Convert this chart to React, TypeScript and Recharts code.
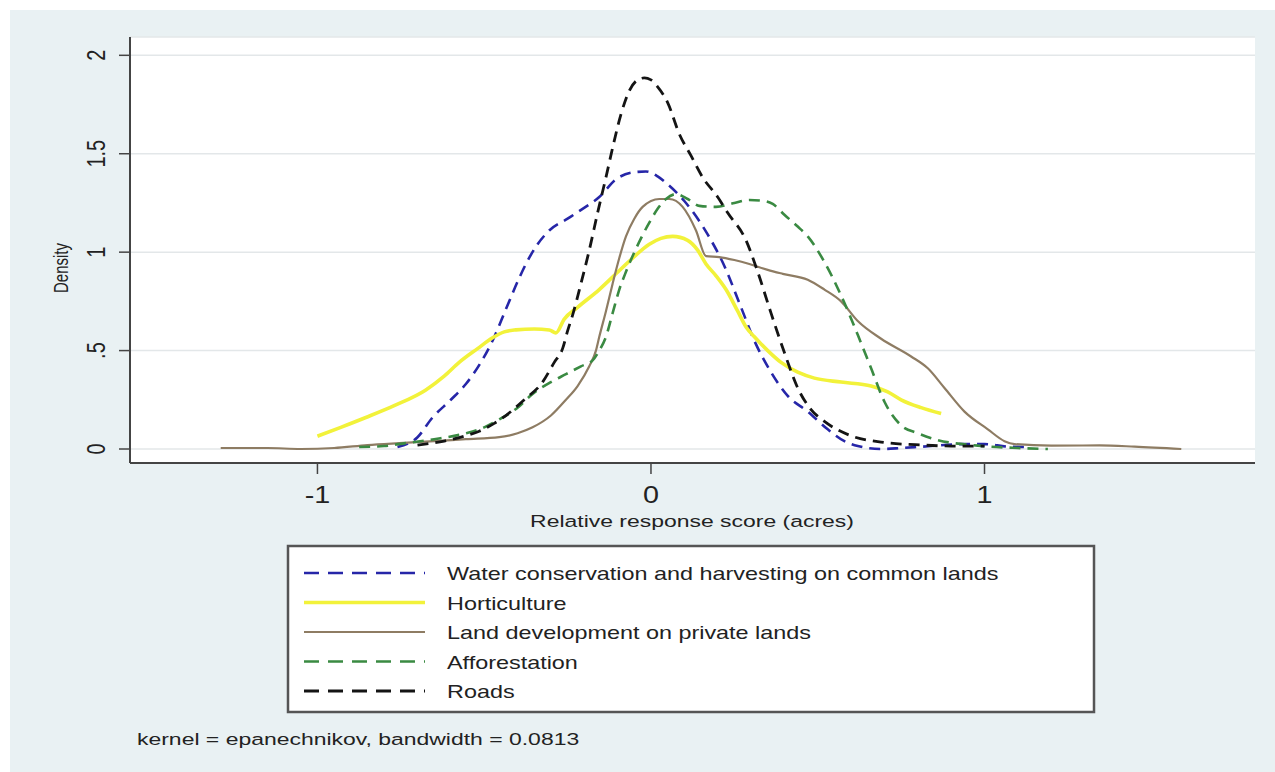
import { LineChart, Line, XAxis, YAxis, CartesianGrid } from 'recharts'

const X_TICKS = [-1, 0, 1]
const X_TICK_LABELS = ['-1', '0', '1']
const Y_TICKS = [0, 0.5, 1, 1.5, 2]
const Y_TICK_LABELS = ['0', '.5', '1', '1.5', '2']

// kernel density estimates: [x, density]
const waterPts = [
  [-0.76, 0.01], [-0.7, 0.06], [-0.655, 0.16], [-0.6, 0.25], [-0.555, 0.33], [-0.51, 0.44],
  [-0.475, 0.55], [-0.435, 0.71], [-0.4, 0.85], [-0.375, 0.94], [-0.34, 1.04], [-0.305, 1.11],
  [-0.25, 1.17], [-0.205, 1.22], [-0.155, 1.28], [-0.105, 1.37], [-0.055, 1.405], [-0.015, 1.41],
  [0.02, 1.385], [0.05, 1.345], [0.1, 1.26], [0.17, 1.09], [0.22, 0.93], [0.27, 0.72], [0.31, 0.55],
  [0.36, 0.39], [0.41, 0.27], [0.47, 0.19], [0.53, 0.1], [0.58, 0.04], [0.62, 0.015], [0.69, 0.0],
  [0.75, 0.005], [0.815, 0.012], [0.94, 0.025], [1.0, 0.025], [1.07, 0.012], [1.12, 0.01],
]

const hortiPts = [
  [-1.0, 0.065], [-0.93, 0.11], [-0.855, 0.16], [-0.77, 0.22], [-0.675, 0.3], [-0.62, 0.37],
  [-0.575, 0.44], [-0.52, 0.51], [-0.475, 0.565], [-0.44, 0.595], [-0.405, 0.605], [-0.35, 0.61],
  [-0.305, 0.605], [-0.285, 0.59], [-0.26, 0.66], [-0.22, 0.72], [-0.155, 0.81], [-0.105, 0.89],
  [-0.055, 0.97], [-0.005, 1.04], [0.03, 1.07], [0.065, 1.08], [0.11, 1.06], [0.14, 1.01],
  [0.165, 0.94], [0.195, 0.88], [0.225, 0.81], [0.26, 0.7], [0.285, 0.62], [0.31, 0.57], [0.35, 0.5],
  [0.39, 0.44], [0.44, 0.39], [0.49, 0.36], [0.57, 0.34], [0.66, 0.32], [0.71, 0.29], [0.75, 0.25],
  [0.81, 0.21], [0.87, 0.18],
]

const landPts = [
  [-1.29, 0.005], [-1.15, 0.005], [-1.05, 0.0], [-0.95, 0.005], [-0.85, 0.02], [-0.755, 0.03],
  [-0.65, 0.04], [-0.555, 0.05], [-0.455, 0.06], [-0.4, 0.08], [-0.355, 0.11], [-0.3, 0.17],
  [-0.255, 0.25], [-0.22, 0.32], [-0.185, 0.42], [-0.165, 0.5], [-0.155, 0.57], [-0.135, 0.7],
  [-0.115, 0.84], [-0.095, 0.97], [-0.075, 1.08], [-0.05, 1.17], [-0.025, 1.23], [0.025, 1.27],
  [0.055, 1.27], [0.095, 1.23], [0.135, 1.11], [0.165, 0.98], [0.205, 0.975], [0.25, 0.96],
  [0.295, 0.94], [0.35, 0.91], [0.395, 0.89], [0.47, 0.86], [0.52, 0.81], [0.57, 0.75], [0.62, 0.65],
  [0.69, 0.56], [0.78, 0.47], [0.83, 0.41], [0.88, 0.31], [0.94, 0.19], [1.01, 0.1], [1.06, 0.04],
  [1.09, 0.025], [1.2, 0.017], [1.345, 0.018], [1.45, 0.012], [1.59, 0.0],
]

const afforPts = [
  [-0.875, 0.01], [-0.8, 0.015], [-0.735, 0.03], [-0.65, 0.05], [-0.555, 0.08], [-0.5, 0.11],
  [-0.455, 0.15], [-0.4, 0.21], [-0.355, 0.28], [-0.3, 0.34], [-0.255, 0.38], [-0.21, 0.42],
  [-0.175, 0.45], [-0.155, 0.5], [-0.135, 0.57], [-0.115, 0.69], [-0.095, 0.81], [-0.075, 0.9],
  [-0.055, 0.98], [-0.03, 1.07], [-0.005, 1.15], [0.02, 1.22], [0.045, 1.27], [0.075, 1.295],
  [0.11, 1.27], [0.145, 1.235], [0.195, 1.23], [0.25, 1.25], [0.295, 1.265], [0.34, 1.26],
  [0.365, 1.245], [0.4, 1.19], [0.44, 1.13], [0.47, 1.08], [0.52, 0.95], [0.57, 0.78], [0.62, 0.58],
  [0.66, 0.41], [0.7, 0.24], [0.75, 0.12], [0.8, 0.08], [0.85, 0.05], [0.98, 0.017], [1.1, 0.005],
  [1.19, 0.0],
]

const roadsPts = [
  [-0.7, 0.02], [-0.62, 0.04], [-0.55, 0.07], [-0.515, 0.09], [-0.47, 0.13], [-0.435, 0.17],
  [-0.38, 0.25], [-0.325, 0.34], [-0.29, 0.44], [-0.265, 0.51], [-0.25, 0.6], [-0.235, 0.68],
  [-0.21, 0.84], [-0.185, 1.01], [-0.16, 1.2], [-0.135, 1.38], [-0.115, 1.53], [-0.09, 1.7],
  [-0.065, 1.82], [-0.04, 1.875], [-0.02, 1.885], [0.0, 1.875], [0.02, 1.84], [0.05, 1.76],
  [0.085, 1.6], [0.12, 1.49], [0.155, 1.38], [0.2, 1.28], [0.23, 1.2], [0.285, 1.06], [0.32, 0.9],
  [0.36, 0.69], [0.4, 0.49], [0.44, 0.31], [0.48, 0.2], [0.52, 0.14], [0.595, 0.07], [0.69, 0.035],
  [0.815, 0.02], [0.9, 0.015], [1.0, 0.015],
]

const SERIES = [
  { key: 'water', name: 'Water conservation and harvesting on common lands', color: '#2626a8', width: 2.6, dash: '11 7', pts: waterPts },
  { key: 'horti', name: 'Horticulture', color: '#f2f23a', width: 3.6, dash: undefined, pts: hortiPts },
  { key: 'land', name: 'Land development on private lands', color: '#8e7c63', width: 2.2, dash: undefined, pts: landPts },
  { key: 'affor', name: 'Afforestation', color: '#3a8a42', width: 2.6, dash: '11 7', pts: afforPts },
  { key: 'roads', name: 'Roads', color: '#141414', width: 2.8, dash: '11 7', pts: roadsPts },
]

const FONT = '"Liberation Sans", Arial, Helvetica, sans-serif'
const INK = '#222'

// eslint-disable-next-line @typescript-eslint/no-explicit-any
function XTick({ x, payload }: any) {
  const i = X_TICKS.indexOf(payload.value)
  return (
    <text transform={`translate(${x},503) scale(1.25,1)`} textAnchor="middle" fontSize={23} fill={INK} fontFamily={FONT}>
      {X_TICK_LABELS[i] ?? String(payload.value)}
    </text>
  )
}

// eslint-disable-next-line @typescript-eslint/no-explicit-any
function YTick({ y, payload }: any) {
  const i = Y_TICKS.indexOf(payload.value)
  return (
    <text transform={`translate(105,${y}) scale(1.25,1) rotate(-90)`} textAnchor="middle" fontSize={20} fill={INK} fontFamily={FONT}>
      {Y_TICK_LABELS[i] ?? String(payload.value)}
    </text>
  )
}

export default function App() {
  return (
    <div style={{ position: 'absolute', left: 0, top: 0, width: 1275, height: 772, background: '#fff', overflow: 'hidden' }}>
      <div style={{ position: 'absolute', left: 10, top: 10, right: 0, bottom: 0, background: '#e9f1f3' }} />
      <div style={{ position: 'absolute', left: 0, top: 0 }}>
        <LineChart width={1275} height={772} margin={{ top: 37, right: 20, bottom: 249, left: 0 }}>
          <CartesianGrid vertical={false} stroke="#e3e7e9" strokeWidth={1.5} fill="#ffffff" />
          <XAxis
            dataKey="x"
            type="number"
            domain={[-1.562, 1.811]}
            allowDataOverflow
            ticks={X_TICKS}
            height={60}
            tick={<XTick />}
            tickSize={11}
            tickLine={{ stroke: '#444', strokeWidth: 1.5 }}
            axisLine={{ stroke: '#444', strokeWidth: 2 }}
          />
          <YAxis
            type="number"
            domain={[-0.0711, 2.093]}
            allowDataOverflow
            ticks={Y_TICKS}
            width={130}
            tick={<YTick />}
            tickSize={11}
            tickLine={{ stroke: '#444', strokeWidth: 1.5 }}
            axisLine={{ stroke: '#444', strokeWidth: 2 }}
          />
          {SERIES.map(s => (
            <Line
              key={s.key}
              data={s.pts.map(([x, y]) => ({ x, y }))}
              dataKey="y"
              type="monotone"
              stroke={s.color}
              strokeWidth={s.width}
              strokeDasharray={s.dash}
              dot={false}
              activeDot={false}
              isAnimationActive={false}
            />
          ))}
        </LineChart>
      </div>
      <svg width={1275} height={772} style={{ position: 'absolute', left: 0, top: 0, pointerEvents: 'none' }}>
        <text transform="translate(68,268) scale(1.33,1) rotate(-90)" textAnchor="middle" fontSize={15} fill={INK} fontFamily={FONT}>
          Density
        </text>
        <text transform="translate(692,527) scale(1.35,1)" textAnchor="middle" fontSize={17} fill={INK} fontFamily={FONT}>
          Relative response score (acres)
        </text>
        <rect x={288} y={546} width={806} height={166} fill="#fff" stroke="#555" strokeWidth={2.5} />
        {SERIES.map((s, i) => {
          const base = 580 + i * 29.5
          return (
            <g key={s.key}>
              <line x1={304} x2={425} y1={base - 7} y2={base - 7} stroke={s.color} strokeWidth={s.width} strokeDasharray={s.dash ? '15 9' : undefined} />
              <text transform={`translate(447,${base}) scale(1.3,1)`} fontSize={18} fill={INK} fontFamily={FONT}>
                {s.name}
              </text>
            </g>
          )
        })}
        <text transform="translate(137,745) scale(1.35,1)" fontSize={17} fill={INK} fontFamily={FONT}>
          kernel = epanechnikov, bandwidth = 0.0813
        </text>
      </svg>
    </div>
  )
}
